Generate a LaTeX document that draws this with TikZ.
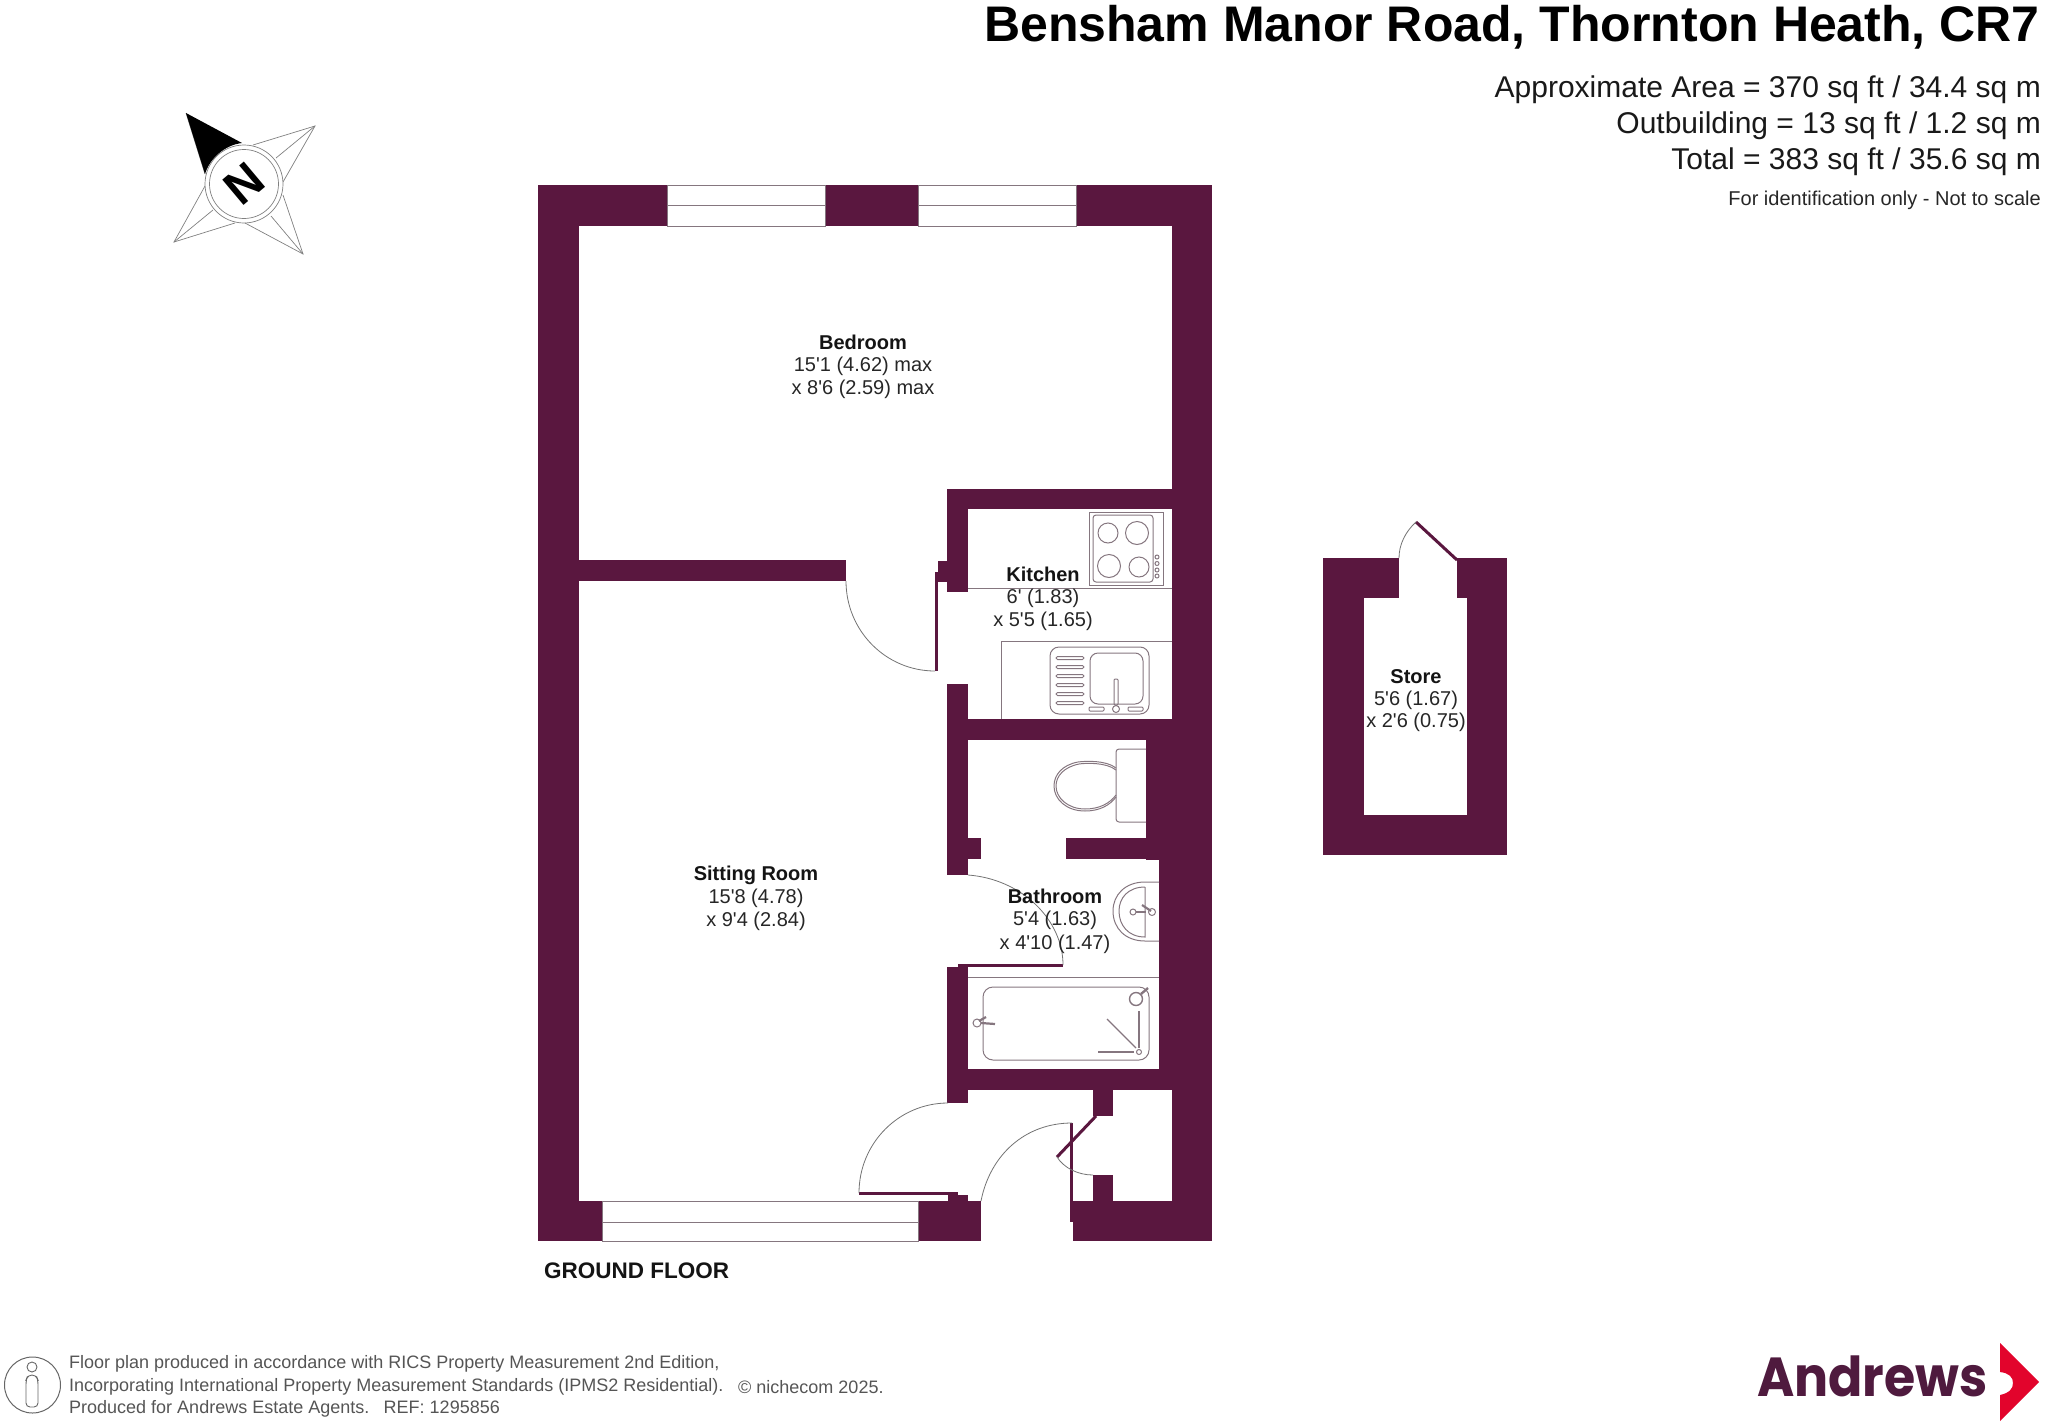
\documentclass[tikz,border=0pt]{standalone}
\usepackage{fontspec}
\setmainfont{Liberation Sans}[Ligatures=TeXOff]
\newfontfamily\logofont{Poppins}
\definecolor{wallc}{HTML}{5A173F}
\definecolor{fixc}{HTML}{85767F}
\definecolor{foot}{HTML}{555555}
\definecolor{logop}{HTML}{4F1A3E}
\definecolor{logor}{HTML}{E2042C}
\tikzset{
  wall/.style={fill=wallc,draw=none},
  fix/.style={draw=fixc,line width=1pt},
  win/.style={draw=fixc,line width=1pt,fill=white},
  swing/.style={draw=black!55,line width=0.8pt},
  room/.style={font=\fontsize{20}{24}\selectfont\bfseries,inner sep=0pt,text=black!92},
  dim/.style={font=\fontsize{20}{24}\selectfont,inner sep=0pt,text=black!85},
  info/.style={font=\fontsize{30}{34}\selectfont,inner sep=0pt,anchor=east,text=black!90},
  foottext/.style={font=\fontsize{18}{20}\selectfont,inner sep=0pt,anchor=west,text=foot},
  comp/.style={draw=black!50,line width=0.7pt}
}
\begin{document}
\begin{tikzpicture}[x=1pt,y=-1pt]
\useasboundingbox (0,0) rectangle (2048,1424);
% --- main walls
\foreach \a/\b/\c/\d in {
 538/185/1212/226, 538/185/579/1241, 538/1201/602/1241, 1172/185/1212/1241,
 579/560/846/581,
 947/489/1172/509, 947/489/968/592, 938/561/947/582, 935/572/938/671,
 947/684/968/875, 947/719/1172/740, 1146/740/1172/860, 1159/859/1172/1070,
 1066/838/1172/859, 968/838/981/859,
 947/967/968/1103, 958/964/1063/967, 947/1069/1172/1090,
 1093/1090/1113/1116, 1093/1175/1113/1201,
 1073/1201/1212/1241, 918/1201/981/1241,
 948/1192/958/1202, 958/1195/968/1202, 859/1192/958/1195, 1070/1123/1073/1222}
 {\fill[wall] (\a,\b) rectangle (\c,\d);}
% --- windows
\foreach \a/\b in {667/825, 918/1076}{
  \draw[win] (\a,185.5) rectangle (\b,226);
  \draw[fix,line width=1pt] (\a,205.5) -- (\b,205.5);
}
\draw[win] (602,1201) rectangle (918,1241);
\draw[fix,line width=1pt] (602,1222) -- (918,1222);
% --- door swings
\draw[swing] (846,581) .. controls (846,631) and (886,671) .. (935,671);
\draw[swing] (968,875) .. controls (1022,879) and (1063,920) .. (1063,965);
\draw[swing] (948,1103) .. controls (899,1103) and (859,1143) .. (859,1193);
\draw[swing] (981,1201) .. controls (990,1155) and (1025,1123) .. (1072,1123);
\draw[line width=3pt,draw=wallc] (1096,1116) -- (1057,1157);
\draw[swing] (1057,1157) .. controls (1064,1168) and (1078,1175) .. (1093,1175);
% --- kitchen fittings
\draw[fix] (968,588) -- (1172,588);
\draw[fix] (1172,641) -- (1001,641) -- (1001,719);
\draw[fix] (1089,512) rectangle (1163,585);
\draw[fix,rounded corners=3pt] (1093,515) rectangle (1153,582);
\foreach \a/\b/\r in {1108/533/10, 1137/533/11.5, 1109/566/11.5, 1139/567/10, 1157/557/2, 1157/563.5/2, 1157/570/2, 1157/576/2}
  {\draw[fix] (\a,\b) circle (\r);}
\draw[fix,rounded corners=9pt] (1050,647) rectangle (1149,714);
\draw[fix,rounded corners=8pt] (1090,653) rectangle (1143,704);
\foreach \b in {658,667,676,685,694,703}
  {\draw[fix,rounded corners=1.5pt] (1056,\b-1.5) rectangle (1084,\b+1.5);}
\draw[fix,rounded corners=1pt] (1114,679) rectangle (1118,705);
\draw[fix] (1116,709) circle (3.5);
\draw[fix,rounded corners=1pt] (1089,707) rectangle (1104,711);
\draw[fix,rounded corners=1pt] (1128,707) rectangle (1143,711);
% --- WC
\draw[fix,rounded corners=3pt] (1146,749) -- (1116,749) -- (1116,822) -- (1146,822);
\draw[fix] (1116,768) .. controls (1106,760) and (1085,761) .. (1078,762) .. controls (1062,765) and (1054,775) .. (1054,786) .. controls (1054,799) and (1066,811) .. (1085,811) .. controls (1100,811) and (1110,805) .. (1116,797);
\draw[fix] (1116,770) .. controls (1106,762) and (1085,763) .. (1079,764) .. controls (1064,767) and (1056,776) .. (1056,786) .. controls (1056,798) and (1068,809) .. (1085,809) .. controls (1100,809) and (1110,803) .. (1116,795);
% --- bathroom fittings
\draw[fix] (1159,882) -- (1145,882) .. controls (1125,882) and (1113,895) .. (1113,911) .. controls (1113,928) and (1125,941) .. (1145,941) -- (1159,941);
\draw[fix] (1145,887) -- (1145,937) .. controls (1128,937) and (1119,925) .. (1119,911) .. controls (1119,898) and (1128,887) .. (1145,887);
\draw[fix] (1133,912) circle (3);
\draw[fix,line width=1.4pt] (1136,912) -- (1146,912);
\draw[fix,line width=2.2pt] (1142,905) -- (1151,911);
\draw[fix] (1152,912) circle (3.5);
\draw[fix] (968,977) -- (1159,977);
\draw[fix,rounded corners=10pt] (983,987) rectangle (1149,1060);
\draw[fix,fill=white] (977,1023) circle (4);
\draw[fix,line width=2.2pt] (981,1023) -- (995,1024);
\draw[fix,line width=2.2pt] (979,1021) -- (986,1017);
\draw[fix,fill=white,line width=1.4pt] (1136,999) circle (6.5);
\draw[fix,line width=2.4pt] (1141,994) -- (1148,988);
\draw[fix,line width=1.2pt] (1139,1011) -- (1139,1048);
\draw[fix,line width=1.2pt] (1107,1019) -- (1136,1048);
\draw[fix,line width=1.2pt] (1098,1052) -- (1134,1052);
\draw[fix] (1139,1052) circle (2.5);
% --- store
\fill[wall] (1323,558) rectangle (1507,855);
\fill[white] (1364,598) rectangle (1467,815);
\fill[white] (1399,550) rectangle (1457,600);
\draw[line width=3pt,draw=wallc] (1457,560) -- (1416,522);
\draw[swing] (1416,522) .. controls (1405,532) and (1399,545) .. (1399,558);
% --- room labels
\node[room] (bedn) at (863,342) {Bedroom};
\node[dim] (bed1) at (863,366) {15'1 (4.62) max};
\node[dim] (bed2) at (863,389) {x 8'6 (2.59) max};
\node[room] (kitn) at (1043,574) {Kitchen};
\node[dim] (kit1) at (1043,598) {6' (1.83)};
\node[dim] (kit2) at (1043,621) {x 5'5 (1.65)};
\node[room] (bathn) at (1055,896) {Bathroom};
\node[dim] (bath1) at (1055,920) {5'4 (1.63)};
\node[dim] (bath2) at (1055,944) {x 4'10 (1.47)};
\node[room] (sitn) at (756,875) {Sitting Room};
\node[dim] (sit1) at (756,898) {15'8 (4.78)};
\node[dim] (sit2) at (756,921) {x 9'4 (2.84)};
\node[room] (stn) at (1416,677) {Store};
\node[dim] (st1) at (1416,700) {5'6 (1.67)};
\node[dim] (st2) at (1416,722) {x 2'6 (0.75)};
\node[font=\fontsize{22.5}{26}\selectfont\bfseries,inner sep=0pt,anchor=west,text=black!92] (gf) at (544,1271) {GROUND FLOOR};
% --- header
\node[font=\fontsize{50}{54}\selectfont\bfseries,inner sep=0pt,anchor=east] (title) at (2040,27) {Bensham Manor Road, Thornton Heath, CR7};
\node[info] (i1) at (2041,90) {Approximate Area = 370 sq ft / 34.4 sq m};
\node[info] (i2) at (2041,126) {Outbuilding = 13 sq ft / 1.2 sq m};
\node[info] (i3) at (2041,162) {Total = 383 sq ft / 35.6 sq m};
\node[font=\fontsize{20}{22}\selectfont,inner sep=0pt,anchor=east,text=black!85] (i4) at (2041,200) {For identification only - Not to scale};
% --- compass
\coordinate (cc) at (244,184);
\draw[comp] (186,113) -- (205,174);
\fill[black] (186,113) -- (242,143) .. controls (225,145) and (210,158) .. (205,174) -- cycle;
\draw[comp] (253,145) -- (315,126) -- (283,182);
\draw[comp] (276,158) -- (315,126);
\draw[comp] (283,195) -- (303,254) -- (245,223);
\draw[comp] (271,216) -- (303,254);
\draw[comp] (235,223) -- (174,242) -- (205,186);
\draw[comp] (213,210) -- (174,242);
\draw[comp] (cc) circle (39);
\draw[comp] (cc) circle (34.5);
\node[font=\fontsize{48}{48}\selectfont\bfseries,inner sep=0pt,rotate=40] (northn) at (cc) {N};
% --- footer
\node[foottext] (f1) at (69,1364) {Floor plan produced in accordance with RICS Property Measurement 2nd Edition,};
\node[foottext] (f2) at (69,1387) {Incorporating International Property Measurement Standards (IPMS2 Residential).};
\node[foottext] (f3) at (69,1409) {Produced for Andrews Estate Agents.\hspace{0.8em}REF: 1295856};
\node[foottext] (f4) at (738,1387) {© nichecom 2025.};
\draw[draw=black!60,line width=1pt] (32.5,1385) circle (28);
\draw[draw=black!60,line width=0.9pt] (32,1367) circle (5);
\draw[draw=black!60,line width=0.9pt,rounded corners=4pt] (28,1375) -- (36,1375) -- (38,1380) -- (38,1407) -- (26,1407) -- (26,1380) -- cycle;
% --- logo
\node[inner sep=0pt,anchor=base west,text=logop] (logo) at (1757,1396) {\scalebox{0.92}[1]{\logofont\bfseries\fontsize{55}{60}\selectfont Andrews}};
\fill[logor] (2000,1343) -- (2039,1382) -- (2000,1421) -- (2000,1395) .. controls (2009,1393) and (2013,1389) .. (2013,1383) .. controls (2013,1377) and (2009,1373) .. (2000,1372) -- cycle;
\end{tikzpicture}
\end{document}
